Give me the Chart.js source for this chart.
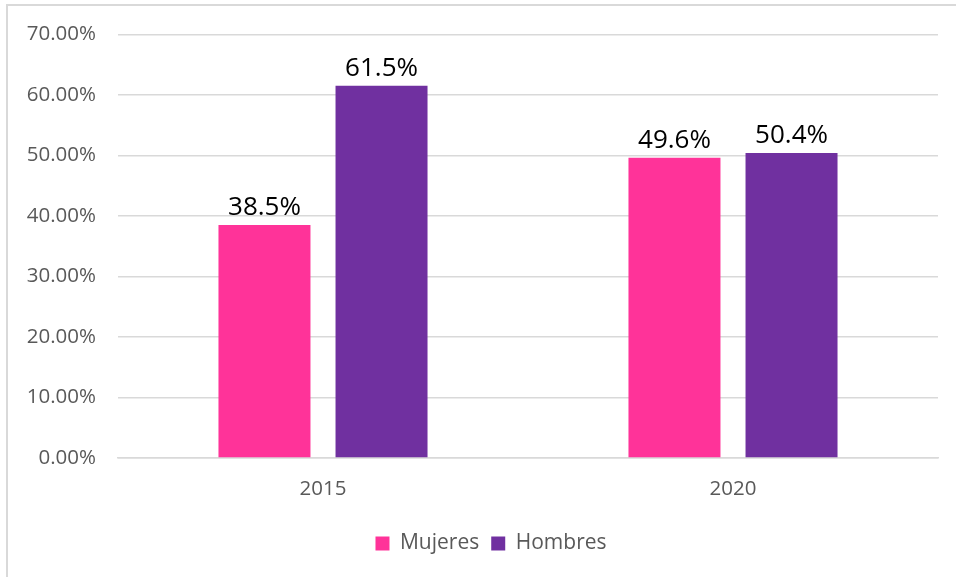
<!DOCTYPE html>
<html>
<head>
<meta charset="utf-8">
<script src="https://cdn.jsdelivr.net/npm/chart.js@4/dist/chart.umd.min.js"></script>
<style>
  html, body { margin: 0; padding: 0; background: #fff; }
  #wrap { width: 956px; height: 577px; position: relative; }
</style>
</head>
<body>
<div id="wrap"><canvas id="chart" width="956" height="577"></canvas></div>
<script>
const years = ['2015', '2020'];
const mujeres = [38.5, 49.6];
const hombres = [61.5, 50.4];
const yTicks = [0, 10, 20, 30, 40, 50, 60, 70];

const FONT = '"Open Sans", "Liberation Sans", sans-serif';

// outer frame of the chart object
const framePlugin = {
    id: 'frame',
    beforeDraw(chart) {
        const ctx = chart.ctx;
        ctx.save();
        ctx.strokeStyle = '#d9d9d9';
        ctx.lineWidth = 2;
        ctx.strokeRect(7, 5, 1000, 700);
        ctx.restore();
    }
};

// nudge the legend so it sits a bit right of the canvas centre
const legendShift = {
    id: 'legendShift',
    afterLayout(chart) {
        const lg = chart.legend;
        if (lg) {
            lg.left += 22;
            lg.right += 22;
        }
    }
};

// value labels above each bar
const valueLabels = {
    id: 'valueLabels',
    afterDatasetsDraw(chart) {
        const ctx = chart.ctx;
        ctx.save();
        ctx.font = '26px ' + FONT;
        ctx.fillStyle = '#000';
        ctx.textAlign = 'center';
        ctx.textBaseline = 'alphabetic';
        chart.data.datasets.forEach((ds, i) => {
            chart.getDatasetMeta(i).data.forEach((bar, j) => {
                ctx.fillText(ds.data[j].toFixed(1) + '%', bar.x, bar.y - 10);
            });
        });
        ctx.restore();
    }
};

new Chart(document.getElementById('chart'), {
    type: 'bar',
    data: {
        labels: years,
        datasets: [
            { label: 'Mujeres', data: mujeres, backgroundColor: '#FF3399' },
            { label: 'Hombres', data: hombres, backgroundColor: '#7030A0' }
        ]
    },
    options: {
        responsive: false,
        animation: false,
        datasets: {
            bar: { categoryPercentage: 0.571, barPercentage: 0.786 }
        },
        layout: { padding: { left: 0, right: 18, top: 34, bottom: 13 } },
        scales: {
            y: {
                min: 0,
                max: 70,
                afterBuildTicks(scale) {
                    scale.ticks = yTicks.map(v => ({ value: v }));
                },
                afterFit(scale) { scale.width = 118; },
                border: { display: false },
                grid: { color: '#d9d9d9', lineWidth: 1.5, drawTicks: false },
                ticks: {
                    padding: 22,
                    color: '#595959',
                    font: { size: 20.5, family: FONT },
                    callback: v => v.toFixed(2) + '%'
                }
            },
            x: {
                afterFit(scale) { scale.height = 63; },
                border: { color: '#d9d9d9', width: 1.5 },
                grid: { display: false, drawTicks: false },
                ticks: {
                    padding: 19,
                    color: '#595959',
                    font: { size: 20.5, family: FONT }
                }
            }
        },
        plugins: {
            tooltip: { enabled: false },
            legend: {
                position: 'bottom',
                labels: {
                    boxWidth: 14,
                    boxHeight: 14,
                    padding: 12,
                    color: '#595959',
                    font: { size: 21, family: FONT }
                }
            }
        }
    },
    plugins: [framePlugin, legendShift, valueLabels]
});
</script>
</body>
</html>
